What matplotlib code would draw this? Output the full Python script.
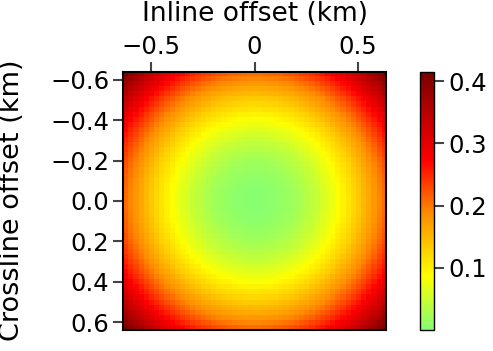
import numpy as np
import matplotlib
matplotlib.use("Agg")
import matplotlib.pyplot as plt
from matplotlib.colors import LinearSegmentedColormap

# Grid cell centres (km)
inline_offset = np.round(np.arange(-0.625, 0.6251, 0.025), 4)
crossline_offset = np.round(np.arange(-0.625, 0.6251, 0.025), 4)

# Values read along the radial offset (km) -> value
profile_radius = [0.0, 0.1, 0.2, 0.3, 0.4, 0.5, 0.6, 0.7, 0.8, 0.9]
profile_value = [0.002, 0.007, 0.022, 0.048, 0.085, 0.133, 0.19, 0.258, 0.337, 0.425]

xticks = [-0.5, 0, 0.5]
xticklabels = ["\u22120.5", "0", "0.5"]
yticks = [-0.6, -0.4, -0.2, 0.0, 0.2, 0.4, 0.6]
yticklabels = ["\u22120.6", "\u22120.4", "\u22120.2", "0.0", "0.2", "0.4", "0.6"]
cticks = [0.1, 0.2, 0.3, 0.4]
vmin, vmax = 0.0, 0.415

X, Y = np.meshgrid(inline_offset, crossline_offset)
R = np.hypot(X, Y)
Z = np.interp(R, profile_radius, profile_value)

cmap = LinearSegmentedColormap.from_list(
    "gyr",
    [(0.0, (0.52, 1.0, 0.45)),
     (0.21, (1.0, 1.0, 0.0)),
     (0.45, (1.0, 0.55, 0.0)),
     (0.66, (1.0, 0.0, 0.0)),
     (1.0, (0.48, 0.0, 0.0))])

plt.rcParams['font.family'] = ['DejaVu Sans']
fig = plt.figure(figsize=(4.93, 3.51), dpi=100)
ax_l, ax_b, ax_w, ax_h = 0.2495, 0.0598, 0.5335, 0.7352
ax = fig.add_axes([ax_l, ax_b, ax_w, ax_h])
half = 0.6375
im = ax.imshow(Z, cmap=cmap, vmin=vmin, vmax=vmax, origin='upper',
               extent=[-half, half, half, -half], aspect='auto',
               interpolation='nearest')
ax.set_xlim(-half, half)
ax.set_ylim(half, -half)
ax.xaxis.tick_top()
ax.xaxis.set_label_position('top')
ax.set_xticks(xticks)
ax.set_xticklabels(xticklabels)
ax.set_yticks(yticks)
ax.set_yticklabels(yticklabels)
ax.tick_params(axis='x', length=7, width=1.5, color='#444444', labelsize=17.5, pad=2)
ax.tick_params(axis='y', length=7, width=1.5, color='#444444', labelsize=17.5, pad=3)
ax.set_xlabel("Inline offset (km)", fontsize=19)
ax.set_ylabel("Crossline offset (km)", fontsize=19.5)
ax.xaxis.label.set_verticalalignment('center')
ax.xaxis.set_label_coords(0.5, (330 - 14) / 258)
ax.yaxis.label.set_verticalalignment('center')
ax.yaxis.label.set_horizontalalignment('center')
ax.yaxis.set_label_coords((12 - 123) / 263, (330 - 200) / 258)
for s in ax.spines.values():
    s.set_linewidth(1.5)

cax = fig.add_axes([0.852, ax_b, 0.0284, ax_h])
cb = fig.colorbar(im, cax=cax)
cb.set_ticks(cticks)
cb.set_ticklabels([f"{t:.1f}" for t in cticks])
cax.tick_params(length=7, width=1.5, color='#444444', labelsize=17.5, pad=3)
cb.outline.set_linewidth(1.0)

fig.savefig("out.png", dpi=100)
